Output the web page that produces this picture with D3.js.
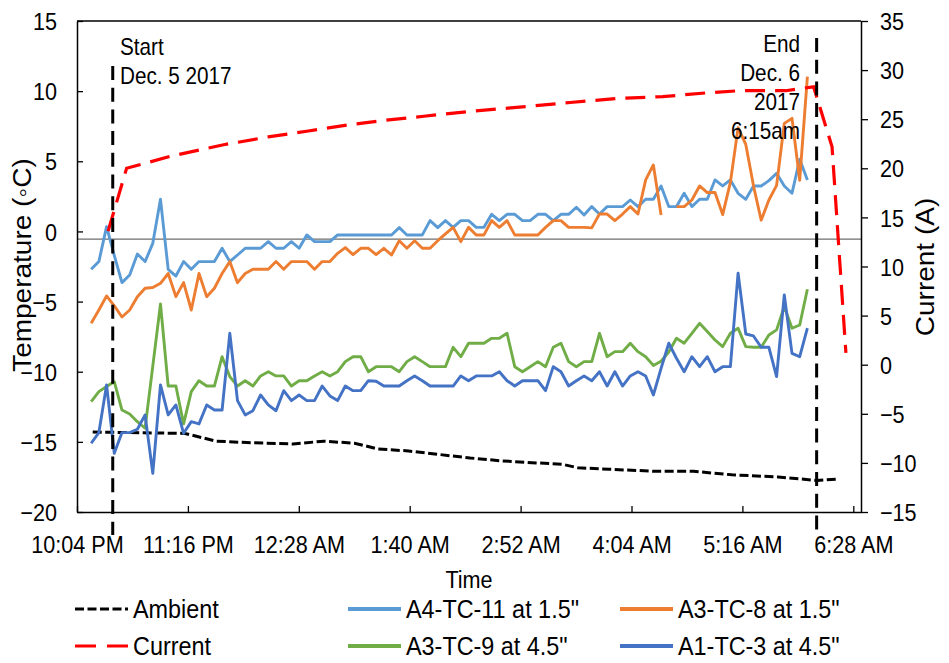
<!DOCTYPE html>
<html>
<head>
<meta charset="utf-8">
<script src="https://cdn.jsdelivr.net/npm/d3@7"></script>
<style>
  html, body { margin: 0; padding: 0; background: #fff; }
  svg { display: block; font-family: "Liberation Sans", Arial, sans-serif; }
</style>
</head>
<body>
<svg id="chart" width="949" height="663"></svg>
<script>
// ---- Thermocouple log, Dec. 5-6 2017 (5-minute readings) ----
const sampleTimes = [
  "22:14","22:19","22:24","22:29","22:34","22:39","22:44","22:49","22:54","22:59",
  "23:04","23:09","23:14","23:19","23:24","23:29","23:34","23:39","23:44","23:49","23:54","23:59",
  "00:04","00:09","00:14","00:19","00:24","00:29","00:34","00:39","00:44","00:49","00:54","00:59",
  "01:04","01:09","01:14","01:19","01:24","01:29","01:34","01:39","01:44","01:49","01:54","01:59",
  "02:04","02:09","02:14","02:19","02:24","02:29","02:34","02:39","02:44","02:49","02:54","02:59",
  "03:04","03:09","03:14","03:19","03:24","03:29","03:34","03:39","03:44","03:49","03:54","03:59",
  "04:04","04:09","04:14","04:19","04:24","04:29","04:34","04:39","04:44","04:49","04:54","04:59",
  "05:04","05:09","05:14","05:19","05:24","05:29","05:34","05:39","05:44","05:49","05:54","05:59"
];

// temperatures in °C
const a4tc11 = [
  -2.70,-2.15,0.34,-1.70,-3.65,-3.10,-1.61,-2.15,-0.85,2.29,
  -2.70,-3.18,-2.15,-2.70,-2.15,-2.15,-2.15,-1.20,-2.15,-1.68,-1.20,-1.20,
  -1.20,-0.73,-1.20,-1.20,-0.73,-1.20,-0.25,-0.73,-0.73,-0.73,-0.25,-0.25,
  -0.25,-0.25,-0.25,-0.25,-0.25,-0.25,0.27,-0.25,-0.25,-0.25,0.77,0.27,
  0.77,0.29,0.77,0.77,0.29,0.29,1.22,0.77,1.22,1.22,0.77,0.77,
  1.22,1.22,0.77,1.22,1.22,1.72,1.17,1.77,1.24,1.77,1.77,1.77,
  2.24,1.77,2.29,2.29,3.24,1.77,1.77,2.72,1.77,2.29,2.29,3.67,
  3.24,3.67,2.72,2.29,3.24,3.24,3.62,4.14,3.24,2.72,5.14,3.67
];
const a3tc8 = [
  -6.55,-5.60,-4.60,-5.30,-6.10,-5.60,-4.65,-4.05,-4.00,-3.70,
  -3.00,-4.65,-3.65,-5.60,-3.00,-4.65,-4.05,-3.00,-2.15,-3.65,-3.00,-2.70,
  -2.70,-2.70,-2.15,-2.70,-2.15,-2.15,-2.15,-2.70,-2.15,-2.15,-1.56,-1.15,
  -1.65,-1.20,-1.20,-1.65,-1.20,-1.68,-0.66,-1.20,-0.66,-1.20,-1.20,-0.66,
  -0.18,0.29,-0.73,0.29,-0.25,-0.25,0.77,0.29,0.77,-0.25,-0.25,-0.25,
  -0.25,0.29,0.77,0.77,0.29,0.29,0.29,0.25,1.24,1.24,0.77,1.24,
  1.77,1.24,3.67,4.74,1.17,null,1.77,1.77,2.24,3.24,2.77,2.77,
  1.20,3.50,7.40,6.20,3.25,0.80,2.24,3.28,7.70,8.06,3.65,11.03
];
const a3tc9 = [
  -12.13,-11.42,-11.06,-10.71,-12.73,-13.01,-13.56,-14.03,-9.60,-5.17,
  -11.02,-11.02,-13.72,-11.42,-10.64,-11.02,-11.02,-8.93,-10.35,-11.02,-10.64,-11.02,
  -10.30,-10.00,-10.30,-10.30,-11.02,-10.64,-10.64,-10.30,-10.00,-10.30,-10.00,-9.28,
  -8.93,-8.93,-10.00,-9.64,-9.64,-9.64,-10.00,-9.28,-8.93,-9.28,-9.64,-9.64,
  -9.64,-8.26,-8.93,-7.97,-7.97,-7.97,-7.62,-7.62,-7.26,-9.64,-10.00,-9.64,
  -9.28,-9.64,-8.26,-7.97,-9.28,-9.64,-9.28,-9.28,-7.26,-8.93,-8.57,-8.57,
  -7.97,-8.57,-8.93,-9.55,-9.25,-8.60,-7.62,-7.97,-7.26,-6.55,-7.14,-7.74,
  -8.21,-7.26,-6.90,-8.21,-8.26,-8.26,-7.38,-7.02,-5.36,-6.90,-6.67,-4.12
];
const a1tc3 = [
  -15.10,-14.34,-10.94,-15.81,-14.34,-14.34,-14.10,-13.08,-17.24,-10.94,
  -13.08,-12.37,-14.39,-13.56,-13.72,-12.37,-12.73,-12.73,-7.26,-12.06,-13.08,-12.78,
  -11.66,-12.37,-12.78,-11.35,-12.06,-11.66,-12.06,-12.06,-11.02,-11.73,-12.06,-11.02,
  -11.35,-11.35,-10.64,-10.68,-11.02,-11.02,-11.02,-10.64,-10.30,-10.64,-11.02,-11.02,
  -11.02,-11.02,-10.30,-10.64,-10.30,-10.30,-10.30,-10.00,-10.64,-11.02,-10.64,-10.64,
  -10.64,-11.35,-9.64,-10.00,-11.02,-10.64,-10.30,-10.64,-10.00,-11.02,-10.00,-11.02,
  -10.30,-10.00,-10.30,-11.66,-9.76,-7.97,-9.04,-10.00,-8.93,-9.64,-8.93,-10.00,
  -9.64,-9.64,-2.98,-7.31,-7.45,-8.26,-8.26,-10.35,-4.53,-8.69,-8.93,-6.90
];

// ambient air temperature (°C)
const ambientTimes = ["22:15","22:45","23:15","23:35","23:55","00:25","00:45","01:05","01:20","01:40","02:00","02:20",
                      "02:40","03:03","03:20","03:30","03:50","04:20","04:45","05:10","05:40","06:05","06:19"];
const ambientTemp  = [-14.30,-14.35,-14.40,-14.95,-15.05,-15.15,-14.95,-15.10,-15.50,-15.65,-15.90,-16.15,
                      -16.35,-16.50,-16.60,-16.85,-16.95,-17.10,-17.10,-17.35,-17.50,-17.75,-17.65];

// heating current (A)
const currentTimes = ["22:25","22:37","23:05","23:40","00:09","00:35","01:00","01:25","01:50","02:20",
                      "02:50","03:25","03:55","04:25","04:55","05:15","05:45","06:03","06:15","06:24"];
const currentAmps  = [13.6,20.0,21.2,22.4,23.2,23.8,24.4,24.9,25.3,25.8,
                      26.2,26.7,27.1,27.3,27.7,27.9,27.9,28.3,22.2,1.2];

// test window
const markerTimes = ["22:28", "06:05"];
const startNote = ["Start", "Dec. 5 2017"];
const endNote = ["End", "Dec. 6", "2017", "6:15am"];

// axes
const axisStart = "22:04:48", axisEnd = "06:33:48";
const timeTicks = ["22:04:48","23:16:48","00:28:48","01:40:48","02:52:48","04:04:48","05:16:48","06:28:48"];
const timeTickLabels = ["10:04 PM","11:16 PM","12:28 AM","1:40 AM","2:52 AM","4:04 AM","5:16 AM","6:28 AM"];
const tempTicks = [15, 10, 5, 0, -5, -10, -15, -20];
const currentTicks = [35, 30, 25, 20, 15, 10, 5, 0, -5, -10, -15];
const referenceTemp = -0.55;

// ---- drawing ----
const plot = { left: 77, right: 861, top: 21, bottom: 512 };
const SQ = 0.9;   // horizontal text compression
const svg = d3.select("#chart");

const parseClock = s => {
  const p = s.split(":").map(Number);
  return new Date(2017, 11, p[0] >= 12 ? 5 : 6, p[0], p[1], p[2] || 0);
};

const x = d3.scaleTime().domain([parseClock(axisStart), parseClock(axisEnd)]).range([plot.left, plot.right]);
const yT = d3.scaleLinear().domain([-20, 15]).range([plot.bottom, plot.top]);
const yA = d3.scaleLinear().domain([-15, 35]).range([plot.bottom, plot.top]);

function addText(g, px, py, txt, size, anchor) {
  return g.append("text")
    .attr("transform", `translate(${px},${py}) scale(${SQ},1)`)
    .attr("text-anchor", anchor || "start")
    .attr("font-size", size)
    .attr("fill", "#000")
    .text(txt);
}

// top frame line
svg.append("line")
  .attr("x1", plot.left).attr("x2", plot.right)
  .attr("y1", plot.top).attr("y2", plot.top)
  .attr("stroke", "#000").attr("stroke-width", 1.6);

// reference line
svg.append("line")
  .attr("x1", plot.left).attr("x2", plot.right)
  .attr("y1", yT(referenceTemp)).attr("y2", yT(referenceTemp))
  .attr("stroke", "#6e6e6e").attr("stroke-width", 1.4);

// axes
const gBottom = svg.append("g").attr("transform", `translate(0,${plot.bottom})`)
  .call(d3.axisBottom(x).tickValues(timeTicks.map(parseClock))
    .tickFormat((d, i) => timeTickLabels[i]).tickSize(-6).tickSizeOuter(0));
gBottom.selectAll("text")
  .attr("y", null).attr("dy", null)
  .attr("transform", `translate(0,41) scale(${SQ},1)`);

const gLeft = svg.append("g").attr("transform", `translate(${plot.left},0)`)
  .call(d3.axisLeft(yT).tickValues(tempTicks).tickSize(-6).tickSizeOuter(0));
gLeft.selectAll("text")
  .attr("x", null).attr("dy", null)
  .attr("transform", `translate(-20,8.6) scale(${SQ},1)`);

const gRight = svg.append("g").attr("transform", `translate(${plot.right},0)`)
  .call(d3.axisRight(yA).tickValues(currentTicks).tickSize(7).tickSizeOuter(0));
gRight.selectAll("text")
  .attr("x", null).attr("dy", null)
  .attr("transform", `translate(19,8.6) scale(${SQ},1)`);

[gBottom, gLeft, gRight].forEach(g => {
  g.attr("font-family", null).attr("font-size", 24);
  g.selectAll("text").attr("fill", "#000");
  g.selectAll("line").attr("stroke", "#000").attr("stroke-width", 1.3);
  g.select(".domain").attr("stroke", "#000").attr("stroke-width", 1.5);
});

// axis titles
svg.append("text")
  .attr("transform", `translate(31,265) scale(${SQ},1) rotate(-90)`)
  .attr("text-anchor", "middle").attr("font-size", 28).text("Temperature (\u25E6C)");
svg.append("text")
  .attr("transform", `translate(934,267) scale(${SQ},1) rotate(-90)`)
  .attr("text-anchor", "middle").attr("font-size", 28).text("Current (A)");
addText(svg, (plot.left + plot.right) / 2, 588, "Time", 24, "middle");

// series
const samples = sampleTimes.map(parseClock);
const lineT = d3.line().defined(d => d[1] != null).x(d => x(d[0])).y(d => yT(d[1]));
const lineA = d3.line().x(d => x(d[0])).y(d => yA(d[1]));

svg.append("path")
  .datum(ambientTimes.map((t, i) => [parseClock(t), ambientTemp[i]]))
  .attr("d", lineT).attr("fill", "none")
  .attr("stroke", "#000").attr("stroke-width", 3).attr("stroke-dasharray", "9,3.5");

const tcSeries = [
  { name: 'A4-TC-11 at 1.5"', values: a4tc11, color: "#5B9BD5" },
  { name: 'A3-TC-8 at 1.5"',  values: a3tc8,  color: "#ED7D31" },
  { name: 'A3-TC-9 at 4.5"',  values: a3tc9,  color: "#70AD47" },
  { name: 'A1-TC-3 at 4.5"',  values: a1tc3,  color: "#4472C4" }
];
tcSeries.forEach(s => {
  svg.append("path")
    .datum(samples.map((t, i) => [t, s.values[i]]))
    .attr("d", lineT).attr("fill", "none")
    .attr("stroke", s.color).attr("stroke-width", 2.9)
    .attr("stroke-linejoin", "round");
});

svg.append("path")
  .datum(currentTimes.map((t, i) => [parseClock(t), currentAmps[i]]))
  .attr("d", lineA).attr("fill", "none")
  .attr("stroke", "#FF0000").attr("stroke-width", 3.2).attr("stroke-dasharray", "20,10");

// start / end markers
const markerTops = [66, 38];
markerTimes.forEach((t, i) => {
  svg.append("line")
    .attr("x1", x(parseClock(t))).attr("x2", x(parseClock(t)))
    .attr("y1", markerTops[i]).attr("y2", plot.bottom + 23)
    .attr("stroke", "#000").attr("stroke-width", 3).attr("stroke-dasharray", "14,7.7");
});
startNote.forEach((s, i) => addText(svg, 120, 55 + i * 28.5, s, 23, "start"));
endNote.forEach((s, i) => addText(svg, 800, 52 + i * 29, s, 23, "end"));

// legend
const legendItems = [
  { name: "Ambient", color: "#000", dash: "9,3.5", width: 3 },
  { name: tcSeries[0].name, color: tcSeries[0].color, dash: null, width: 4 },
  { name: tcSeries[1].name, color: tcSeries[1].color, dash: null, width: 4 },
  { name: "Current", color: "#FF0000", dash: "21,11", width: 3.2 },
  { name: tcSeries[2].name, color: tcSeries[2].color, dash: null, width: 4 },
  { name: tcSeries[3].name, color: tcSeries[3].color, dash: null, width: 4 }
];
const legCols = [75, 348, 620], legRows = [609, 646];
legendItems.forEach((d, i) => {
  const lx = legCols[i % 3], ly = legRows[Math.floor(i / 3)];
  svg.append("line")
    .attr("x1", lx).attr("x2", lx + 53).attr("y1", ly).attr("y2", ly)
    .attr("stroke", d.color).attr("stroke-width", d.width)
    .attr("stroke-dasharray", d.dash);
  addText(svg, lx + 58, ly + 9, d.name, 26, "start");
});
</script>
</body>
</html>
